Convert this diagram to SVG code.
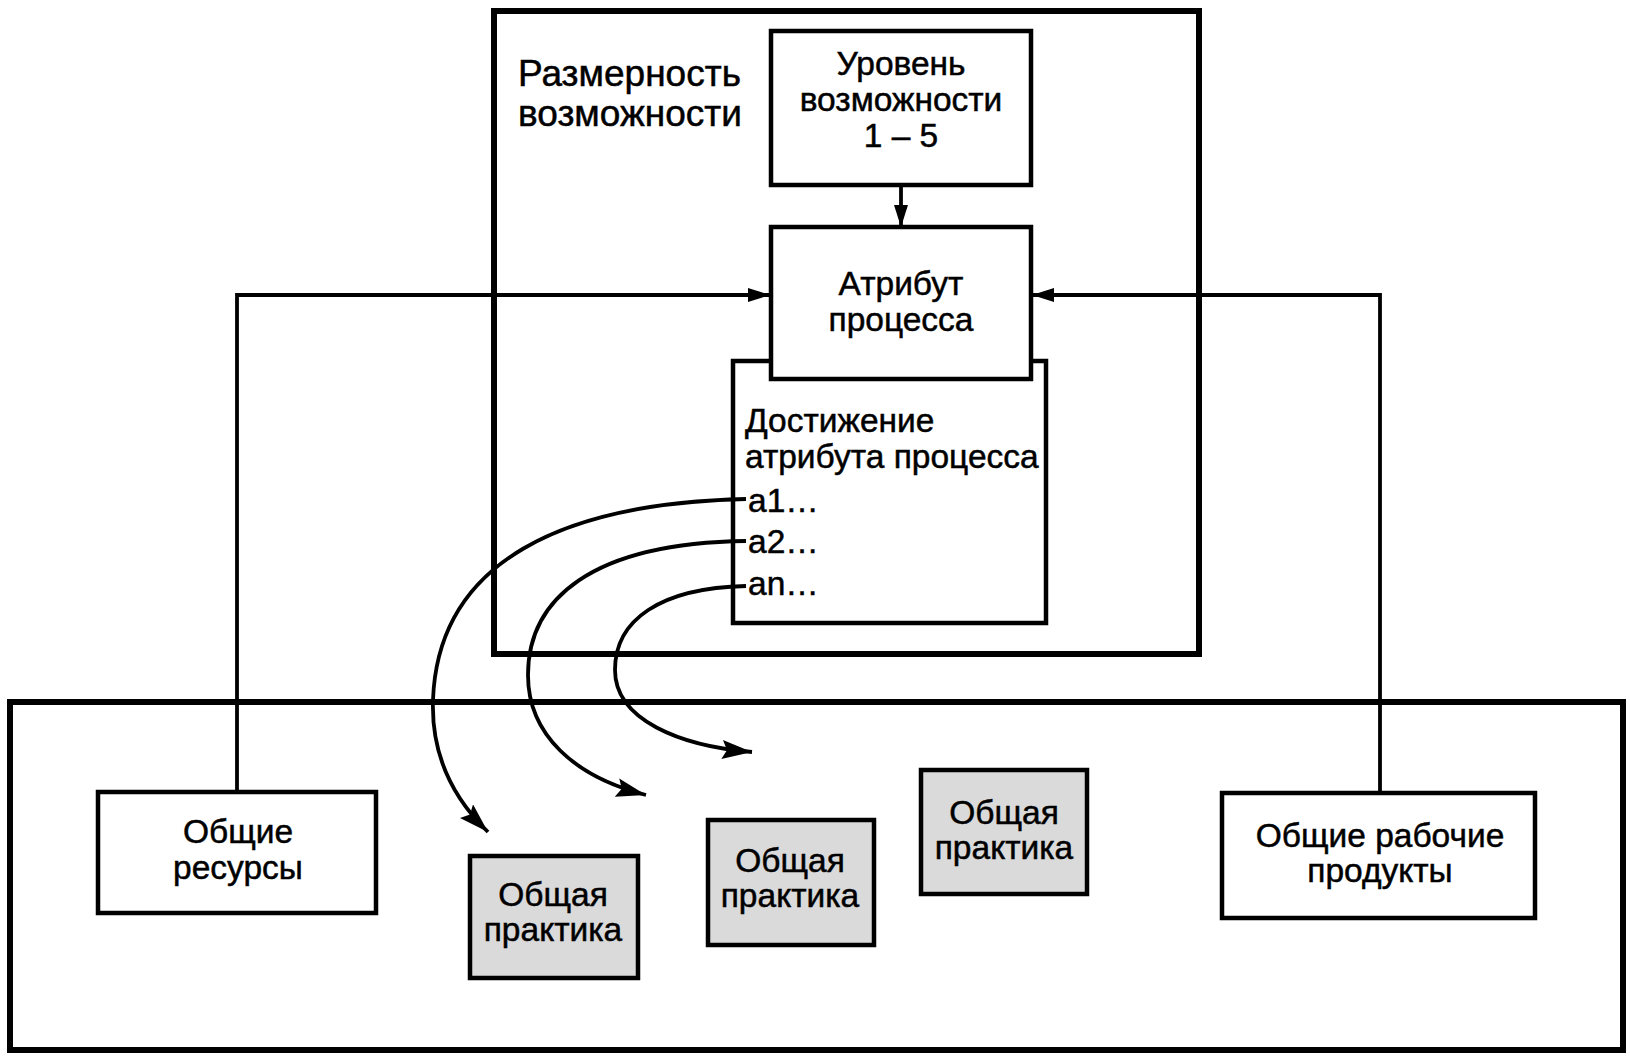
<svg xmlns="http://www.w3.org/2000/svg" width="1630" height="1061" viewBox="0 0 1630 1061">
<style>
.frame{fill:none;stroke:#000;stroke-width:6}
.box{fill:#fff;stroke:#000;stroke-width:4.5}
.gray{fill:#dadada;stroke:#000;stroke-width:4.5}
.ln{fill:none;stroke:#000;stroke-width:3.8}
text{font-family:"Liberation Sans",Arial,sans-serif;font-size:33.5px;fill:#000;stroke:#000;stroke-width:0.5}
.c{text-anchor:middle}
.big{font-size:37px}
</style>
<defs>
<marker id="ah" markerUnits="userSpaceOnUse" markerWidth="22" markerHeight="14" refX="22" refY="7" orient="auto" viewBox="0 0 22 14">
<path d="M0,0 L22,7 L0,14 z" fill="#000"/>
</marker>
<marker id="ahc" markerUnits="userSpaceOnUse" markerWidth="30" markerHeight="19" refX="30" refY="9.5" orient="auto" viewBox="0 0 30 19">
<path d="M0,0 L30,9.5 L0,19 L5,9.5 z" fill="#000"/>
</marker>
</defs>
<rect width="1630" height="1061" fill="#fff"/>
<g id="capability-dimension">
<rect class="frame" x="494" y="11" width="705" height="643"/>
<text class="big" x="518" y="86">Размерность</text>
<text class="big" x="518" y="126">возможности</text>
</g>
<g id="process-dimension">
<rect class="frame" x="10" y="702" width="1613" height="348"/>
</g>
<g id="achievement">
<rect class="box" x="733" y="361" width="313" height="262"/>
<text x="745" y="432">Достижение</text>
<text x="745" y="468">атрибута процесса</text>
<text x="748" y="512">a1…</text>
<text x="748" y="553">a2…</text>
<text x="748" y="595">an…</text>
</g>
<g id="capability-level">
<rect class="box" x="771" y="31" width="260" height="154"/>
<text class="c" x="901" y="75">Уровень</text>
<text class="c" x="901" y="111">возможности</text>
<text class="c" x="901" y="147">1 – 5</text>
</g>
<g id="process-attribute">
<rect class="box" x="771" y="227" width="260" height="152"/>
<text class="c" x="901" y="295">Атрибут</text>
<text class="c" x="901" y="331">процесса</text>
</g>
<g id="generic-resources">
<rect class="box" x="98" y="792" width="278" height="121"/>
<text class="c" x="238" y="843">Общие</text>
<text class="c" x="238" y="879">ресурсы</text>
</g>
<g id="generic-work-products">
<rect class="box" x="1222" y="793" width="313" height="125"/>
<text class="c" x="1380" y="847">Общие рабочие</text>
<text class="c" x="1380" y="882">продукты</text>
</g>
<g id="practice-1">
<rect class="gray" x="470" y="856" width="168" height="122"/>
<text class="c" x="553" y="906">Общая</text>
<text class="c" x="553" y="941">практика</text>
</g>
<g id="practice-2">
<rect class="gray" x="708" y="820" width="166" height="125"/>
<text class="c" x="790" y="872">Общая</text>
<text class="c" x="790" y="907">практика</text>
</g>
<g id="practice-3">
<rect class="gray" x="921" y="770" width="166" height="124"/>
<text class="c" x="1004" y="824">Общая</text>
<text class="c" x="1004" y="859">практика</text>
</g>
<g id="connectors">
<path class="ln" d="M901,185 L901,227" marker-end="url(#ah)"/>
<path class="ln" d="M237,792 L237,295 L770,295" marker-end="url(#ah)"/>
<path class="ln" d="M1380,793 L1380,295 L1032,295" marker-end="url(#ah)"/>
<path class="ln" d="M746,499 C565,503 438,560 433,700 C431,760 458,803 488,832" marker-end="url(#ahc)"/>
<path class="ln" d="M746,541 C590,543 528,600 528,675 C528,735 575,777 646,795" marker-end="url(#ahc)"/>
<path class="ln" d="M746,586 C660,588 615,620 615,670 C615,720 680,746 752,752" marker-end="url(#ahc)"/>
</g>
</svg>
